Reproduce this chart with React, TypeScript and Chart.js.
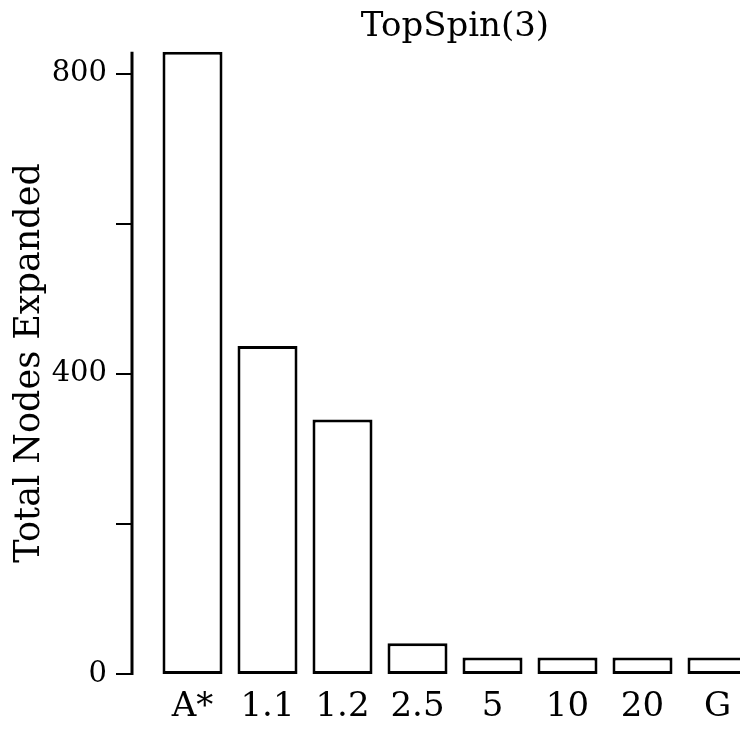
import React, { useEffect, useRef } from "react";
import { Chart, registerables } from "chart.js";

Chart.register(...registerables);

const categories = ["A*", "1.1", "1.2", "2.5", "5", "10", "20", "G"];
const nodesExpanded = [829, 437, 339, 41, 22, 22, 22, 22];
const yTickValues = [0, 200, 400, 600, 800];
const yTickLabels = ["0", "", "400", "", "800"];
const titleText = "TopSpin(3)";
const yAxisTitle = "Total Nodes Expanded";

const FONT = "'DejaVu Serif', serif";

const axisPlugin = {
  id: "detachedYAxis",
  afterDraw(chart: any) {
    const y = chart.scales.y;
    const ctx = chart.ctx;
    const axisX = chart.chartArea.left - 23;
    ctx.save();
    ctx.strokeStyle = "#000";
    ctx.lineCap = "butt";
    ctx.lineWidth = 3;
    ctx.beginPath();
    ctx.moveTo(axisX, y.getPixelForValue(y.max));
    ctx.lineTo(axisX, y.getPixelForValue(0) + 1);
    ctx.stroke();
    ctx.lineWidth = 2;
    for (const t of y.ticks) {
      const py = Math.round(y.getPixelForValue(t.value));
      ctx.beginPath();
      ctx.moveTo(axisX - 16, py);
      ctx.lineTo(axisX, py);
      ctx.stroke();
    }
    ctx.restore();
  },
};

export default function App() {
  const ref = useRef<HTMLCanvasElement | null>(null);
  useEffect(() => {
    if (!ref.current) return;
    Chart.defaults.color = "#000";
    const chart = new Chart(ref.current, {
      type: "bar",
      data: {
        labels: categories,
        datasets: [
          {
            data: nodesExpanded,
            backgroundColor: "#fff",
            borderColor: "#000",
            borderWidth: 3,
            borderSkipped: false,
            barPercentage: 1,
            categoryPercentage: 0.8,
          },
        ],
      },
      options: {
        responsive: false,
        animation: false,
        layout: { padding: { left: 0, right: 5, top: 0, bottom: 0 } },
        plugins: {
          legend: { display: false },
          tooltip: { enabled: false },
          title: {
            display: true,
            text: titleText,
            fullSize: false,
            color: "#000",
            font: { family: FONT, size: 34, weight: "normal", lineHeight: 1.2 },
            padding: { top: 7, bottom: 4 },
          },
        },
        scales: {
          x: {
            grid: { display: false },
            border: { display: false },
            ticks: {
              font: { family: FONT, size: 34 },
              color: "#000",
              padding: 5,
              maxRotation: 0,
              autoSkip: false,
            },
            afterFit(scale: any) {
              scale.height = 60;
            },
          },
          y: {
            min: 0,
            max: nodesExpanded[0],
            grid: { display: false },
            border: { display: false },
            afterBuildTicks(scale: any) {
              scale.ticks = yTickValues.map((v) => ({ value: v }));
            },
            ticks: {
              autoSkip: false,
              font: { family: FONT, size: 29 },
              color: "#000",
              padding: 40,
              callback: (value: any) => {
                const i = yTickValues.indexOf(Number(value));
                return i >= 0 ? yTickLabels[i] : "";
              },
            },
            title: {
              display: true,
              text: yAxisTitle,
              color: "#000",
              font: { family: FONT, size: 35, weight: "normal" },
              padding: { top: 9, bottom: 0 },
            },
            afterFit(scale: any) {
              scale.width = 155;
              scale.paddingTop = 0;
              scale.paddingBottom = 0;
            },
          },
        },
      },
      plugins: [axisPlugin],
    } as any);
    return () => chart.destroy();
  }, []);
  return (
    <div
      style={{
        position: "fixed",
        left: 0,
        top: 0,
        width: 740,
        height: 734,
        overflow: "hidden",
        background: "#fff",
      }}
    >
      <canvas ref={ref} width={760} height={734} style={{ width: 760, height: 734, display: "block" }} />
    </div>
  );
}
